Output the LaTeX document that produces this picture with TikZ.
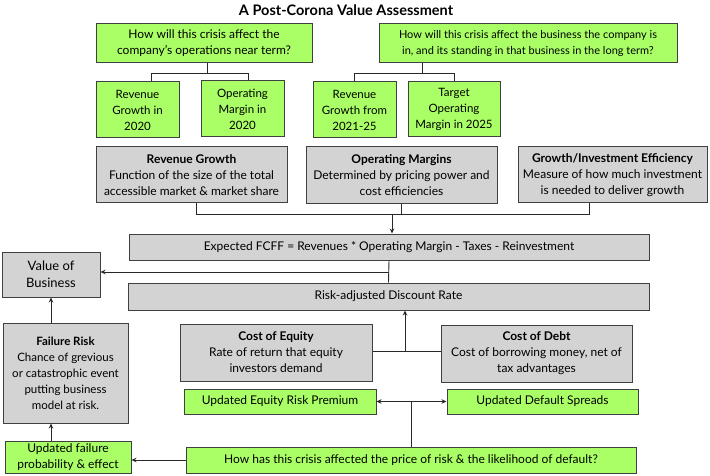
\documentclass[tikz,border=0pt]{standalone}
\usepackage{fontspec}
\setmainfont{Lato}
\usetikzlibrary{arrows.meta}
\definecolor{gfill}{RGB}{170,255,102}
\definecolor{gyfill}{RGB}{211,211,211}
\definecolor{edge}{RGB}{64,64,64}
\definecolor{ln}{RGB}{40,40,40}
\begin{document}
\begin{tikzpicture}[x=1pt,y=-1pt,
  box/.style={draw=edge,line width=1pt,align=center,inner sep=0pt,font=\fontsize{12}{16}\selectfont,anchor=center},
  gbox/.style={box,fill=gfill},
  ybox/.style={box,fill=gyfill},
  smallt/.style={font=\fontsize{11.5}{16}\selectfont},
  conn/.style={draw=ln,line width=0.9pt},
  arr/.style={conn,-{Stealth[length=5pt,width=4.5pt]}},
  darr/.style={conn,{Stealth[length=5pt,width=4.5pt]}-{Stealth[length=5pt,width=4.5pt]}}
]
\useasboundingbox (0,0) rectangle (710,476);
\node[font=\bfseries\fontsize{14.5}{16}\selectfont] (title) at (346,10) {A Post-Corona Value Assessment};

\node[gbox,minimum width=216pt,minimum height=39pt] (Q1) at (204,43.5) {How will this crisis affect the\\company's operations near term?};
\node[gbox,smallt,minimum width=83pt,minimum height=56pt] (RG20) at (137.5,110) {Revenue\\Growth in\\2020};
\node[gbox,smallt,minimum width=83pt,minimum height=56pt] (OM20) at (242.5,109) {Operating\\Margin in\\2020};
\node[gbox,font=\fontsize{11}{16}\selectfont,minimum width=298pt,minimum height=39pt] (Q2) at (528,43.5) {How will this crisis affect the business the company is\\in, and its standing in that business in the long term?};
\node[gbox,smallt,minimum width=83pt,minimum height=56pt] (RG25) at (354.5,110) {Revenue\\Growth from\\2021-25};
\node[gbox,smallt,minimum width=92pt,minimum height=55pt] (TOM) at (454,109.5) {Target\\Operating\\Margin in 2025};

\node[ybox,minimum width=191pt,minimum height=56pt] (RevG) at (191.5,175) {\textbf{Revenue Growth}\\Function of the size of the total\\accessible market \& market share};
\node[ybox,minimum width=191pt,minimum height=57pt] (OpM) at (401.5,175.5) {\textbf{Operating Margins}\\Determined by pricing power and\\cost efficiencies};
\node[ybox,minimum width=189pt,minimum height=56pt] (GIE) at (612.5,175) {\textbf{Growth/Investment Efficiency}\\Measure of how much investment\\is needed to deliver growth};

\node[ybox,minimum width=520pt,minimum height=26pt] (FCFF) at (389,247) {Expected FCFF = Revenues * Operating Margin - Taxes - Reinvestment};
\node[ybox,minimum width=98pt,minimum height=45pt,font=\fontsize{13}{17}\selectfont] (VoB) at (51,274.5) {Value of\\Business};
\node[ybox,minimum width=521pt,minimum height=27pt] (RADR) at (388.5,296.5) {Risk-adjusted Discount Rate};
\node[ybox,smallt,minimum width=125pt,minimum height=100pt] (FR) at (65.5,373) {\textbf{Failure Risk}\\Chance of grevious\\or catastrophic event\\putting business\\model at risk.};
\node[gbox,minimum width=126pt,minimum height=32pt] (UFP) at (68,457) {Updated failure\\probability \& effect};
\node[ybox,minimum width=192pt,minimum height=57pt] (CoE) at (276,352.5) {\textbf{Cost of Equity}\\Rate of return that equity\\investors demand};
\node[ybox,minimum width=191pt,minimum height=57pt] (CoD) at (536.5,353.5) {\textbf{Cost of Debt}\\Cost of borrowing money, net of\\tax advantages};
\node[gbox,minimum width=192pt,minimum height=25pt] (ERP) at (280,401.5) {Updated Equity Risk Premium};
\node[gbox,minimum width=191pt,minimum height=25pt] (UDS) at (542.5,401.5) {Updated Default Spreads};
\node[gbox,minimum width=450pt,minimum height=26pt] (HHC) at (411,460) {How has this crisis affected the price of risk \& the likelihood of default?};

% top-left tree
\draw[conn] ([xshift=3pt]Q1.south) -- ++(0,10) coordinate (b1);
\draw[conn] ([xshift=13.5pt]RG20.north) |- (b1) -| ([xshift=5.5pt]OM20.north);
% top-right tree
\draw[conn] ([xshift=-106pt]Q2.south) -- ++(0,10) coordinate (b2);
\draw[conn] (RG25.north) |- (b2) -| (TOM.north);
% gray row to FCFF
\draw[conn] ([xshift=4.5pt]RevG.south) -- ++(0,11) coordinate (b3) -| ([xshift=-23.5pt]GIE.south);
\draw[conn] (OpM.south) -- (OpM.south |- b3);
\draw[arr] ([xshift=3pt]FCFF.north |- b3) -- ([xshift=3pt]FCFF.north);
% FCFF / RADR to value
\draw[conn] (FCFF.south) -- (RADR.north);
\draw[arr] (FCFF.south |- 0,272) coordinate (b4) -- (VoB.east |- b4);
% failure chain
\draw[arr] (VoB.south |- FR.north) -- (VoB.south);
\draw[arr] (VoB.south |- UFP.north) -- (VoB.south |- FR.south);
\draw[arr] (HHC.west) -- (HHC.west -| UFP.east);
% cost of capital
\draw[conn] (CoE.east |- 0,351) coordinate (b5) -- (CoD.west |- b5);
\draw[arr] (405,351) coordinate (b6) -- (b6 |- RADR.south);
\draw[darr] (ERP.east) -- (UDS.west);
\draw[conn] (HHC.north) -- (HHC.north |- ERP.east);
\end{tikzpicture}
\end{document}
